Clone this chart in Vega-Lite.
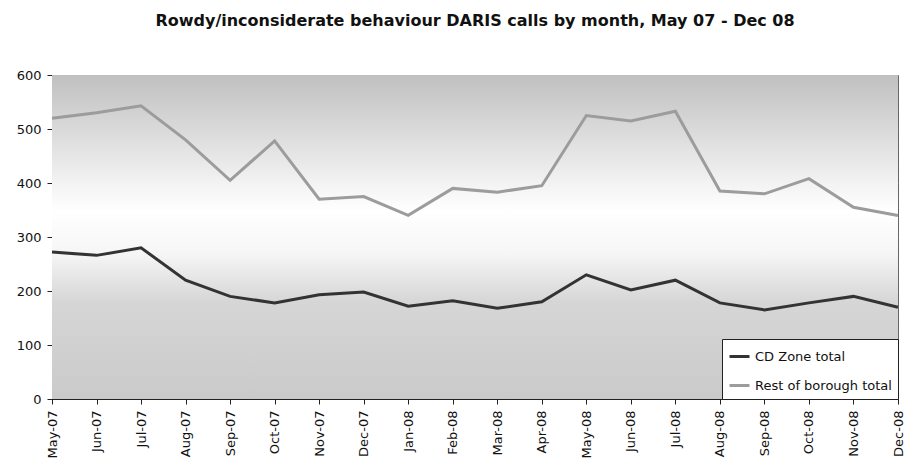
{
  "$schema": "https://vega.github.io/schema/vega-lite/v6.json",
  "width": 907,
  "height": 464,
  "autosize": {"type": "fit", "contains": "padding"},
  "padding": {"left": 16, "right": 2, "top": 13, "bottom": 6},
  "background": "white",
  "title": {
    "text": "Rowdy/inconsiderate behaviour DARIS calls by month, May 07 - Dec 08",
    "font": "DejaVu Sans",
    "fontSize": 16,
    "fontWeight": "bold",
    "color": "#111",
    "offset": 40
  },
  "data": {
    "values": [
      {"month": "May-07", "series": "CD Zone total", "calls": 272},
      {"month": "Jun-07", "series": "CD Zone total", "calls": 266},
      {"month": "Jul-07", "series": "CD Zone total", "calls": 280},
      {"month": "Aug-07", "series": "CD Zone total", "calls": 220},
      {"month": "Sep-07", "series": "CD Zone total", "calls": 190},
      {"month": "Oct-07", "series": "CD Zone total", "calls": 178},
      {"month": "Nov-07", "series": "CD Zone total", "calls": 193},
      {"month": "Dec-07", "series": "CD Zone total", "calls": 198},
      {"month": "Jan-08", "series": "CD Zone total", "calls": 172},
      {"month": "Feb-08", "series": "CD Zone total", "calls": 182},
      {"month": "Mar-08", "series": "CD Zone total", "calls": 168},
      {"month": "Apr-08", "series": "CD Zone total", "calls": 180},
      {"month": "May-08", "series": "CD Zone total", "calls": 230},
      {"month": "Jun-08", "series": "CD Zone total", "calls": 202},
      {"month": "Jul-08", "series": "CD Zone total", "calls": 220},
      {"month": "Aug-08", "series": "CD Zone total", "calls": 178},
      {"month": "Sep-08", "series": "CD Zone total", "calls": 165},
      {"month": "Oct-08", "series": "CD Zone total", "calls": 178},
      {"month": "Nov-08", "series": "CD Zone total", "calls": 190},
      {"month": "Dec-08", "series": "CD Zone total", "calls": 170},
      {"month": "May-07", "series": "Rest of borough total", "calls": 520},
      {"month": "Jun-07", "series": "Rest of borough total", "calls": 530},
      {"month": "Jul-07", "series": "Rest of borough total", "calls": 543},
      {"month": "Aug-07", "series": "Rest of borough total", "calls": 480},
      {"month": "Sep-07", "series": "Rest of borough total", "calls": 405},
      {"month": "Oct-07", "series": "Rest of borough total", "calls": 478},
      {"month": "Nov-07", "series": "Rest of borough total", "calls": 370},
      {"month": "Dec-07", "series": "Rest of borough total", "calls": 375},
      {"month": "Jan-08", "series": "Rest of borough total", "calls": 340},
      {"month": "Feb-08", "series": "Rest of borough total", "calls": 390},
      {"month": "Mar-08", "series": "Rest of borough total", "calls": 383},
      {"month": "Apr-08", "series": "Rest of borough total", "calls": 395},
      {"month": "May-08", "series": "Rest of borough total", "calls": 525},
      {"month": "Jun-08", "series": "Rest of borough total", "calls": 515},
      {"month": "Jul-08", "series": "Rest of borough total", "calls": 533},
      {"month": "Aug-08", "series": "Rest of borough total", "calls": 385},
      {"month": "Sep-08", "series": "Rest of borough total", "calls": 380},
      {"month": "Oct-08", "series": "Rest of borough total", "calls": 408},
      {"month": "Nov-08", "series": "Rest of borough total", "calls": 355},
      {"month": "Dec-08", "series": "Rest of borough total", "calls": 340}
    ]
  },
  "layer": [
    {
      "mark": {
        "type": "rect",
        "fill": {
          "gradient": "linear",
          "x1": 0, "y1": 0, "x2": 0, "y2": 1,
          "stops": [
            {"offset": 0, "color": "#c0c0c0"},
            {"offset": 0.33, "color": "#f2f2f2"},
            {"offset": 0.42, "color": "#ffffff"},
            {"offset": 0.55, "color": "#f6f6f6"},
            {"offset": 0.7, "color": "#d6d6d6"},
            {"offset": 1, "color": "#cacaca"}
          ]
        }
      },
      "encoding": {
        "y": {"datum": 600, "type": "quantitative"},
        "y2": {"datum": 0}
      }
    },
    {
      "mark": {"type": "line", "strokeWidth": 3},
      "encoding": {
        "x": {
          "field": "month",
          "type": "ordinal",
          "sort": null,
          "scale": {"type": "point", "padding": 0},
          "axis": {
            "title": null,
            "labelAngle": -90,
            "labelFont": "DejaVu Sans",
            "labelFontSize": 13,
            "labelColor": "#111",
            "labelPadding": 6,
            "domainColor": "#222",
            "tickColor": "#222",
            "tickSize": 5,
            "grid": false
          }
        },
        "y": {
          "field": "calls",
          "type": "quantitative",
          "scale": {"domain": [0, 600]},
          "axis": {
            "title": null,
            "values": [0, 100, 200, 300, 400, 500, 600],
            "labelFont": "DejaVu Sans",
            "labelFontSize": 13,
            "labelColor": "#111",
            "labelPadding": 6,
            "domainColor": "#222",
            "tickColor": "#222",
            "tickSize": 5,
            "grid": true,
            "gridColor": "#8a8a8a",
            "gridWidth": 1
          }
        },
        "color": {
          "field": "series",
          "type": "nominal",
          "scale": {
            "domain": ["CD Zone total", "Rest of borough total"],
            "range": ["#333333", "#9c9c9c"]
          },
          "legend": {
            "title": null,
            "orient": "bottom-right",
            "offset": 0,
            "fillColor": "white",
            "strokeColor": "#222",
            "padding": 6,
            "symbolType": "stroke",
            "symbolSize": 400,
            "symbolStrokeWidth": 3,
            "labelFont": "DejaVu Sans",
            "labelFontSize": 13,
            "labelColor": "#111",
            "rowPadding": 10
          }
        }
      }
    }
  ],
  "config": {
    "view": {"stroke": "#666"}
  }
}
